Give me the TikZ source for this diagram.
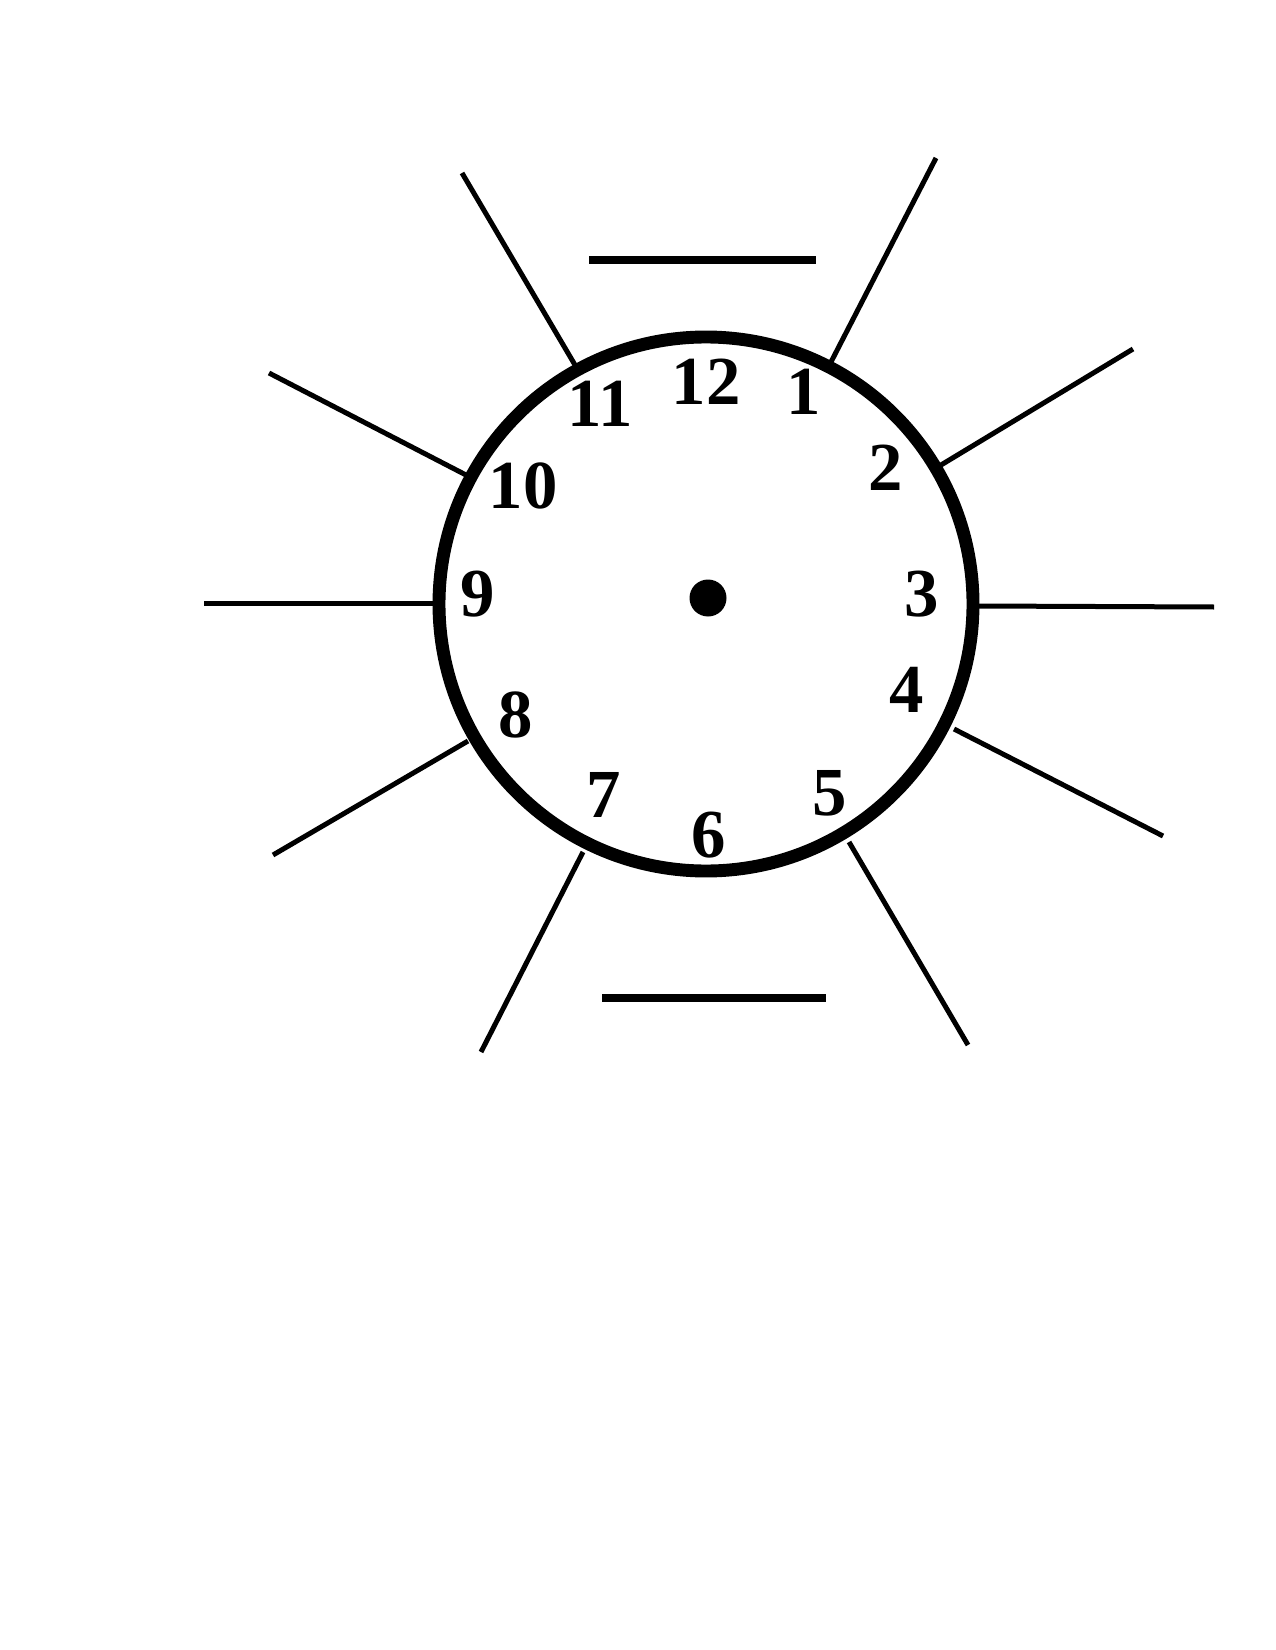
\documentclass[tikz,border=0pt]{standalone}
\usepackage{fontspec}
\setmainfont{Liberation Serif}
\begin{document}
\begin{tikzpicture}[x=0.48pt,y=-0.48pt,
  spoke/.style={line width=2.4pt},
  bar/.style={line width=4pt},
  num/.style={font=\fontsize{33}{33}\selectfont\bfseries, inner sep=0pt, anchor=center}]
\useasboundingbox[fill=white] (0,0) rectangle (1275,1650);
\coordinate (c) at (706,604);
% spoke ends
\coordinate (a11o) at (462,173);  \coordinate (a11i) at (575,365);
\coordinate (a1o) at (936,158);   \coordinate (a1i) at (831,362);
\coordinate (a2o) at (1133,349);  \coordinate (a2i) at (941,465);
\coordinate (a3o) at (1214,607);  \coordinate (a3i) at (978,606);
\coordinate (a4o) at (1163,836);  \coordinate (a4i) at (954,729);
\coordinate (a5o) at (968,1045);  \coordinate (a5i) at (849,842);
\coordinate (a7o) at (481,1052);  \coordinate (a7i) at (583,852);
\coordinate (a8o) at (273,855);   \coordinate (a8i) at (468,741);
\coordinate (a9o) at (204,603);   \coordinate (a9i) at (434,603);
\coordinate (a10o) at (269,373);  \coordinate (a10i) at (466,475);
\foreach \k in {11,1,2,3,4,5,7,8,9,10} \draw[spoke] (a\k o) -- (a\k i);
% clock face
\draw[line width=6.2pt] (c) circle[radius=267];
\fill (708,598) circle[radius=18.5];
% bars
\coordinate (t1) at (589,260); \coordinate (t2) at (816,260);
\coordinate (b1) at (602,998); \coordinate (b2) at (826,998);
\draw[bar] (t1) -- (t2);
\draw[line width=3.4pt] (b1) -- (b2);
% numbers
\node[num] (n12) at (706,382) {12};
\node[num] (n1) at (804,392) {1};
\node[num] (n2) at (886,468) {2};
\node[num] (n3) at (922,594) {3};
\node[num] (n4) at (907,690) {4};
\node[num] (n5) at (830,793) {5};
\node[num] (n6) at (709,835) {6};
\node[num] (n7) at (604,795) {7};
\node[num] (n8) at (516,715) {8};
\node[num] (n9) at (478,594) {9};
\node[num] (n10) at (523,486) {10};
\node[num] (n11) at (600,404) {11};
\end{tikzpicture}
\end{document}
